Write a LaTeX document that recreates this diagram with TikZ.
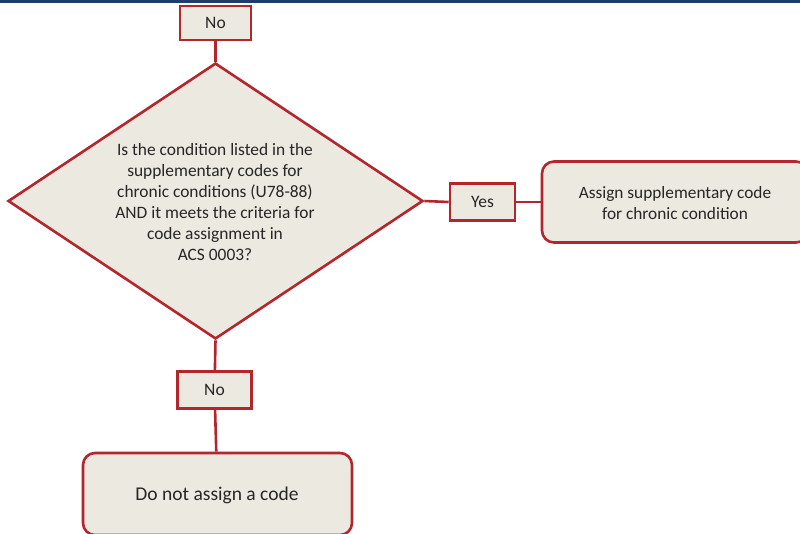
\documentclass[tikz,border=0pt]{standalone}
\usepackage{fontspec}
\setmainfont{Carlito}
\usetikzlibrary{shapes.geometric}
\definecolor{boxfill}{HTML}{ECE9E1}
\definecolor{boxline}{HTML}{B3262C}
\definecolor{topbar}{HTML}{1F3D6B}
\definecolor{txt}{HTML}{262626}
\begin{document}
\begin{tikzpicture}[x=1pt,y=-1pt,
  base/.style={draw=boxline, fill=boxfill, line width=2.6pt, inner sep=0pt},
  answer/.style={base, rectangle, text=txt, font=\fontsize{17.5}{20}\selectfont},
  result/.style={base, rectangle, rounded corners=12pt},
  plain/.style={text=txt, align=center, inner sep=0pt},
  link/.style={draw=boxline, line width=2.6pt}]
\useasboundingbox (0,0) rectangle (800,533);
\fill[topbar] (0,0) rectangle (800,2.5);
% nodes
\node[answer, minimum width=71pt, minimum height=34pt] (no1) at (215.5,23) {No};
\node[base, diamond, minimum width=415pt, minimum height=276pt] (dia) at (215.5,201) {};
\node[plain, font=\fontsize{17.4}{21}\selectfont] (q) at (215,202)
  {Is the condition listed in the\\supplementary codes for\\chronic conditions (U78-88)\\AND it meets the criteria for\\code assignment in\\ACS 0003?};
\node[answer, minimum width=65pt, minimum height=37pt] (yes) at (482.5,202) {Yes};
\node[result, minimum width=266pt, minimum height=81pt] (assign) at (675,202) {};
\node[plain, font=\fontsize{17.3}{20.5}\selectfont] (assigntext) at (675,203)
  {Assign supplementary code\\for chronic condition};
\node[answer, minimum width=74pt, minimum height=37pt] (no2) at (214.5,390) {No};
\node[result, minimum width=269pt, minimum height=82pt] (donot) at (217.5,494) {};
\node[plain, font=\fontsize{19.5}{22}\selectfont] (donottext) at (217,495) {Do not assign a code};
% connectors
\draw[link] (no1) -- (dia.north);
\draw[link] (dia.east) -- (yes.west);
\draw[link] (yes.east) -- (assign.west);
\draw[link] (dia.south) -- (no2);
\draw[link] (no2) -- (donot);
\end{tikzpicture}
\end{document}
